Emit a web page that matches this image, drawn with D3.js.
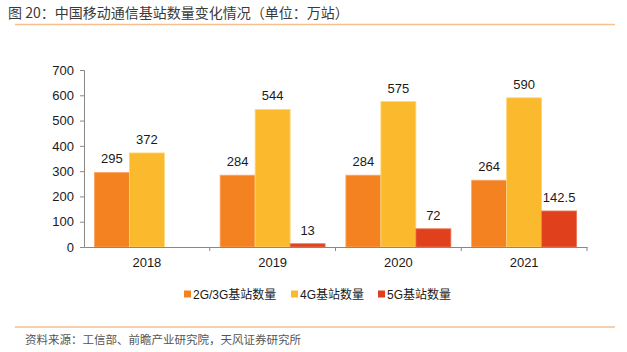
<!DOCTYPE html>
<html>
<head>
<meta charset="utf-8">
<script src="https://cdn.jsdelivr.net/npm/d3@7"></script>
<style>
  body { margin: 0; background: #fff; }
  svg { font-family: "Liberation Sans", Arial, "Noto Sans CJK SC", sans-serif; }
</style>
</head>
<body>
<div id="chart"></div>
<script>
const years = ['2018', '2019', '2020', '2021'];
const seriesNames = ['2G/3G基站数量', '4G基站数量', '5G基站数量'];
const series2g3g = [295, 284, 284, 264];
const series4g = [372, 544, 575, 590];
const series5g = [null, 13, 72, 142.5];
const labels5g = ['', '13', '72', '142.5'];
const yTicks = [0, 100, 200, 300, 400, 500, 600, 700];

const colors = ['#f58220', '#fbba2d', '#e0411c'];
const strokes = ['#f9a868', '#fdd77e', '#ec7a5c'];

const width = 627, height = 352;
const margin = { top: 70, right: 40, bottom: 105, left: 84 };
const innerW = width - margin.left - margin.right;
const innerH = height - margin.top - margin.bottom;

const svg = d3.select('#chart').append('svg')
    .attr('width', width)
    .attr('height', height);

// title + lines
svg.append('text')
    .attr('x', 8).attr('y', 18)
    .attr('font-size', 14)
    .attr('font-family', '"Noto Sans CJK SC", sans-serif')
    .attr('fill', '#3a3a3a')
    .text('图 20：中国移动通信基站数量变化情况（单位：万站）');
svg.append('line')
    .attr('x1', 15).attr('x2', 615).attr('y1', 24.5).attr('y2', 24.5)
    .attr('stroke', '#f9c08e').attr('stroke-width', 1.5);
svg.append('line')
    .attr('x1', 15).attr('x2', 615).attr('y1', 327).attr('y2', 327)
    .attr('stroke', '#f0a060').attr('stroke-width', 1.2);
svg.append('text')
    .attr('x', 25).attr('y', 344)
    .attr('font-size', 11.5)
    .attr('font-family', '"Noto Sans CJK SC", sans-serif')
    .attr('fill', '#555')
    .text('资料来源：工信部、前瞻产业研究院，天风证券研究所');

const bounds = svg.append('g')
    .attr('transform', `translate(${margin.left},${margin.top})`);

const x = d3.scaleBand().domain(years).range([0, innerW]);
const y = d3.scaleLinear().domain([0, 700]).range([innerH, 0]);
const barW = 35;

const data = years.map((yr, i) => ({
    year: yr,
    values: [
        { k: 0, v: series2g3g[i], label: String(series2g3g[i]) },
        { k: 1, v: series4g[i], label: String(series4g[i]) },
        { k: 2, v: series5g[i], label: labels5g[i] }
    ]
}));

const groups = bounds.selectAll('.grp')
    .data(data)
    .join('g')
    .attr('transform', d => `translate(${x(d.year) + x.bandwidth() / 2 - barW * 1.5},0)`);

groups.selectAll('rect')
    .data(d => d.values.filter(v => v.v != null))
    .join('rect')
    .attr('x', d => d.k * barW)
    .attr('y', d => y(d.v))
    .attr('width', barW)
    .attr('height', d => y(0) - y(d.v))
    .attr('fill', d => colors[d.k])
    .attr('stroke', d => strokes[d.k])
    .attr('stroke-width', 0.8);

groups.selectAll('.val')
    .data(d => d.values.filter(v => v.v != null))
    .join('text')
    .attr('class', 'val')
    .attr('x', d => d.k * barW + barW / 2)
    .attr('y', d => y(d.v) - 9)
    .attr('text-anchor', 'middle')
    .attr('font-size', 13)
    .attr('fill', '#1a1a1a')
    .text(d => d.label);

// y axis
const yAxis = bounds.append('g')
    .call(d3.axisLeft(y).tickValues(yTicks).tickSize(4).tickPadding(6));
yAxis.select('.domain').attr('stroke', '#888');
yAxis.selectAll('.tick line').attr('stroke', '#888');
yAxis.selectAll('.tick text')
    .attr('font-size', 13)
    .attr('fill', '#1a1a1a')
    .attr('font-family', '"Liberation Sans", Arial, sans-serif');

// x axis
const xAxis = bounds.append('g')
    .attr('transform', `translate(0,${innerH})`)
    .call(d3.axisBottom(x).tickSize(0).tickPadding(11));
xAxis.select('.domain').attr('stroke', '#888');
xAxis.selectAll('.tick text')
    .attr('font-size', 13)
    .attr('fill', '#1a1a1a')
    .attr('font-family', '"Liberation Sans", Arial, sans-serif');
xAxis.selectAll('.sep')
    .data(years)
    .join('line')
    .attr('class', 'sep')
    .attr('x1', d => x(d) + x.bandwidth())
    .attr('x2', d => x(d) + x.bandwidth())
    .attr('y1', 0).attr('y2', 4)
    .attr('stroke', '#888');

// legend
const legendX = [184, 291, 378];
const legend = svg.append('g');
const items = legend.selectAll('g')
    .data(seriesNames)
    .join('g')
    .attr('transform', (d, i) => `translate(${legendX[i]},294)`);
items.append('rect')
    .attr('x', 0).attr('y', -3.5)
    .attr('width', 7).attr('height', 7)
    .attr('fill', (d, i) => colors[i]);
items.append('text')
    .attr('x', 9).attr('y', 4.5)
    .attr('font-size', 12)
    .attr('fill', '#1a1a1a')
    .attr('font-family', '"Liberation Sans", Arial, "Noto Sans CJK SC", sans-serif')
    .text(d => d);
</script>
</body>
</html>
